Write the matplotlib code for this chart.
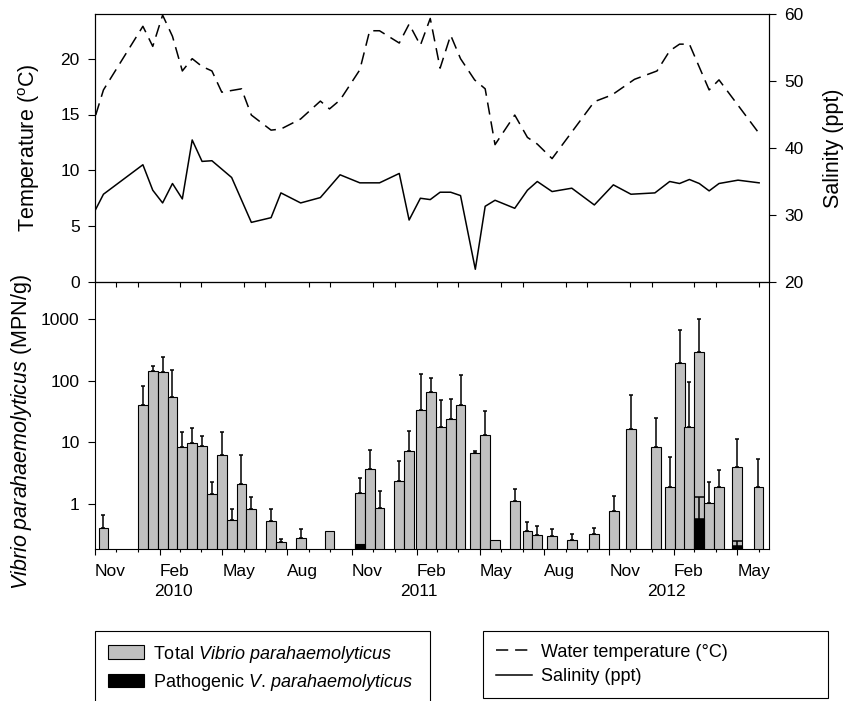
import matplotlib.pyplot as plt
import matplotlib.dates as mdates
import matplotlib.ticker as mticker
import matplotlib.transforms as mtransforms
from matplotlib.lines import Line2D
from matplotlib.patches import Patch
import numpy as np
import pandas as pd

plt.rcParams["font.family"] = "Liberation Sans"
plt.rcParams["mathtext.fontset"] = "custom"
plt.rcParams["mathtext.rm"] = "Liberation Sans"
plt.rcParams["mathtext.it"] = "Liberation Sans:italic"

BAR_GRAY = "#c0c0c0"
TICK_FS = 12.5
LABEL_FS = 15.5
DASHED = (0, (8, 4.5))

# 1) Data
temp_dates = [
    "2009-11-02", "2009-11-13", "2010-01-08", "2010-01-22", "2010-02-05",
    "2010-02-19", "2010-03-05", "2010-03-19", "2010-04-02", "2010-04-16",
    "2010-04-30", "2010-05-28", "2010-06-11", "2010-07-09", "2010-07-23",
    "2010-08-20", "2010-09-17", "2010-09-30", "2010-10-15", "2010-11-12",
    "2010-11-26", "2010-12-10", "2011-01-07", "2011-01-21", "2011-02-06",
    "2011-02-20", "2011-03-06", "2011-03-21", "2011-04-04", "2011-04-24",
    "2011-05-09", "2011-05-23", "2011-06-20", "2011-07-08", "2011-07-22",
    "2011-08-12", "2011-10-11", "2011-11-05", "2011-12-07", "2012-01-08",
    "2012-01-26", "2012-02-09", "2012-02-23", "2012-03-22", "2012-04-05",
    "2012-06-01",
]
temp_values = [
    14.95, 17.2, 22.9, 21.1, 23.9,
    22.0, 18.9, 20.0, 19.3, 18.9,
    17.0, 17.3, 14.95, 13.6, 13.7,
    14.6, 16.2, 15.5, 16.3, 19.0,
    22.5, 22.5, 21.4, 23.1, 21.2,
    23.6, 19.15, 22.1, 20.0, 18.1,
    17.3, 12.3, 14.95, 12.95, 12.35,
    11.05, 16.15, 16.75, 18.15, 18.9,
    20.7, 21.3, 21.3, 17.2, 18.1,
    13.3,
]

sal_dates = [
    "2009-11-02", "2009-11-13", "2010-01-08", "2010-01-22", "2010-02-05",
    "2010-02-19", "2010-03-05", "2010-03-19", "2010-04-02", "2010-04-16",
    "2010-05-14", "2010-06-11", "2010-07-09", "2010-07-23", "2010-08-20",
    "2010-09-17", "2010-10-15", "2010-11-12", "2010-12-10", "2011-01-07",
    "2011-01-21", "2011-02-06", "2011-02-20", "2011-03-06", "2011-03-21",
    "2011-04-04", "2011-04-25", "2011-05-09", "2011-05-23", "2011-06-20",
    "2011-07-08", "2011-07-22", "2011-08-12", "2011-09-09", "2011-10-11",
    "2011-11-07", "2011-12-02", "2012-01-05", "2012-01-26", "2012-02-09",
    "2012-02-23", "2012-03-08", "2012-03-22", "2012-04-05", "2012-05-02",
    "2012-06-01",
]
sal_values = [
    30.85, 33.1, 37.5, 33.7, 31.8,
    34.7, 32.4, 41.2, 38.0, 38.1,
    35.6, 28.9, 29.6, 33.3, 31.8,
    32.6, 36.0, 34.8, 34.8, 36.2,
    29.25, 32.5, 32.3, 33.4, 33.4,
    32.9, 21.9, 31.3, 32.2, 31.0,
    33.7, 35.0, 33.5, 34.0, 31.5,
    34.5, 33.1, 33.3, 35.0, 34.7,
    35.3, 34.7, 33.6, 34.7, 35.2,
    34.8,
]

vp_dates = [
    "2009-11-13", "2010-01-08", "2010-01-22", "2010-02-05", "2010-02-19",
    "2010-03-05", "2010-03-19", "2010-04-02", "2010-04-16", "2010-04-30",
    "2010-05-14", "2010-05-28", "2010-06-11", "2010-07-09", "2010-07-23",
    "2010-08-20", "2010-09-30", "2010-11-12", "2010-11-26", "2010-12-10",
    "2011-01-07", "2011-01-21", "2011-02-07", "2011-02-21", "2011-03-07",
    "2011-03-21", "2011-04-04", "2011-04-25", "2011-05-09", "2011-05-23",
    "2011-06-20", "2011-07-08", "2011-07-22", "2011-08-12", "2011-09-09",
    "2011-10-11", "2011-11-08", "2011-12-02", "2012-01-06", "2012-01-27",
    "2012-02-10", "2012-02-23", "2012-03-08", "2012-03-22", "2012-04-05",
    "2012-04-30", "2012-05-31",
]
vp_total = [
    0.40, 40, 145, 138, 55,
    8.3, 9.6, 8.7, 1.47, 6.3,
    0.54, 2.13, 0.82, 0.53, 0.24,
    0.28, 0.365, 1.49, 3.74, 0.85,
    2.36, 7.15, 33.4, 65.5, 17.9,
    23.6, 40, 6.7, 13.1, 0.255,
    1.10, 0.365, 0.31, 0.30, 0.26,
    0.33, 0.78, 16.6, 8.4, 1.89,
    191, 17.9, 288, 1.03, 1.86,
    3.94, 1.86,
]
# top of the error bar (None = no error bar drawn)
vp_total_upper = [
    0.66, 82, 175, 240, 151,
    14.9, 16.9, 12.5, 2.24, 14.9,
    0.82, 6.3, 1.31, 0.82, 0.27,
    0.39, None, 2.67, 7.5, 1.64,
    4.98, 15.5, 129, 110, 48,
    51, 125, 7.2, 32.6, None,
    1.73, 0.50, 0.43, 0.39, 0.33,
    0.41, 1.36, 58.5, 24.8, 5.7,
    665, 94, 1000, 2.3, 3.55,
    11.4, 5.4,
]

path_dates = ["2010-11-12", "2012-03-08", "2012-04-30"]
path_values = [0.22, 0.57, 0.21]
path_upper = [None, 1.27, 0.25]

year_labels = ["2010", "2011", "2012"]
year_label_dates = ["2010-02-21", "2011-02-04", "2012-01-22"]


def errbars(ax, dates, values, uppers, capsize, zorder):
    d = pd.to_datetime(dates)
    v = np.array(values, dtype=float)
    u = np.array([np.nan if x is None else x for x in uppers], dtype=float)
    m = ~np.isnan(u)
    ax.errorbar(
        d[m], v[m],
        yerr=[np.zeros(m.sum()), u[m] - v[m]],
        fmt="none", ecolor="black", elinewidth=1.1,
        capsize=capsize, capthick=1.1, zorder=zorder,
    )


def main():
    fig = plt.figure(figsize=(8.43, 7.01), dpi=100)
    left, width = 95 / 843, 674 / 843
    ax_t = fig.add_axes([left, 1 - 282 / 701, width, 268 / 701])
    ax_b = fig.add_axes([left, 1 - 549 / 701, width, 267 / 701])
    ax_b.patch.set_visible(False)
    ax_s = ax_t.twinx()

    xmin, xmax = pd.Timestamp("2009-11-01"), pd.Timestamp("2012-06-15")
    months = pd.date_range("2009-11-01", "2012-06-01", freq="MS")
    off_quarter = months[~months.month.isin([2, 5, 8, 11])]

    # 2) Top panel: temperature + salinity
    ax_t.plot(pd.to_datetime(temp_dates), temp_values, color="black",
              linewidth=1.1, linestyle=DASHED)
    ax_s.plot(pd.to_datetime(sal_dates), sal_values, color="black",
              linewidth=1.1)

    ax_t.set_xlim(xmin, xmax)
    ax_t.set_ylim(0, 24)
    ax_s.set_ylim(20, 60)
    ax_t.set_yticks([0, 5, 10, 15, 20])
    ax_s.set_yticks([20, 30, 40, 50, 60])
    ax_t.xaxis.set_major_locator(mticker.FixedLocator(mdates.date2num(off_quarter)))
    ax_t.tick_params(axis="x", direction="out", length=3.5, width=0.8,
                     labelbottom=False)
    ax_t.tick_params(axis="y", direction="out", length=5, width=0.8,
                     pad=6, labelsize=TICK_FS)
    ax_s.tick_params(axis="y", direction="out", length=5, width=0.8,
                     pad=6, labelsize=TICK_FS)

    ax_t.set_ylabel("Temperature ($^{\\mathrm{o}}$C)", fontsize=LABEL_FS)
    ax_t.yaxis.set_label_coords(-0.078, 0.5)
    ax_s.set_ylabel("Salinity (ppt)", fontsize=LABEL_FS)
    ax_s.yaxis.set_label_coords(1.08, 0.5)

    # 3) Bottom panel: Vibrio parahaemolyticus bars
    vd = pd.to_datetime(vp_dates)
    base = 0.1
    ax_b.bar(vd, np.array(vp_total) - base, bottom=base, width=14,
             color=BAR_GRAY, edgecolor="black", linewidth=0.8, zorder=2)
    errbars(ax_b, vp_dates, vp_total, vp_total_upper, 1.6, 3)
    pd_ = pd.to_datetime(path_dates)
    ax_b.bar(pd_, np.array(path_values) - base, bottom=base, width=14,
             color="black", edgecolor="black", linewidth=0.8, zorder=4)
    errbars(ax_b, path_dates, path_values, path_upper, 3.5, 5)

    ax_b.set_yscale("log")
    ax_b.set_ylim(0.185, 4000)
    ax_b.set_xlim(xmin, xmax)
    ax_b.yaxis.set_major_locator(mticker.FixedLocator([1, 10, 100, 1000]))
    ax_b.yaxis.set_major_formatter(mticker.FixedFormatter(["1", "10", "100", "1000"]))
    ax_b.yaxis.set_minor_locator(mticker.NullLocator())
    ax_b.xaxis.set_major_locator(mdates.MonthLocator(bymonth=[2, 5, 8, 11]))
    ax_b.xaxis.set_major_formatter(mdates.DateFormatter("%b"))
    ax_b.xaxis.set_minor_locator(mdates.MonthLocator())
    ax_b.tick_params(axis="x", which="major", direction="out", length=4.5,
                     width=0.8, pad=6, labelsize=TICK_FS)
    ax_b.tick_params(axis="x", which="minor", direction="out", length=2.5,
                     width=0.8)
    ax_b.tick_params(axis="y", direction="out", length=5, width=0.8,
                     pad=6, labelsize=TICK_FS)
    for lbl in ax_b.get_xticklabels():
        lbl.set_horizontalalignment("left")

    trans = mtransforms.blended_transform_factory(ax_b.transData, ax_b.transAxes)
    for lab, d in zip(year_labels, pd.to_datetime(year_label_dates)):
        ax_b.text(d, -0.161, lab, transform=trans, ha="center", va="center",
                  fontsize=TICK_FS)

    ax_b.set_ylabel("$\\mathit{Vibrio\\ parahaemolyticus}$ (MPN/g)",
                    fontsize=LABEL_FS)
    ax_b.yaxis.set_label_coords(-0.09, 0.44)

    for ax in (ax_t, ax_b, ax_s):
        for spine in ax.spines.values():
            spine.set_linewidth(0.8)

    # 4) Legends below the plot
    h_bars = [
        Patch(facecolor=BAR_GRAY, edgecolor="black", linewidth=0.8),
        Patch(facecolor="black", edgecolor="black", linewidth=0.8),
    ]
    h_lines = [
        Line2D([], [], color="black", linewidth=1.1, linestyle=DASHED),
        Line2D([], [], color="black", linewidth=1.1),
    ]
    common = dict(
        loc="upper left", mode="expand", borderaxespad=0, fontsize=13,
        fancybox=False, framealpha=1, edgecolor="black",
        handlelength=2.0, handleheight=0.8, handletextpad=0.5,
        labelspacing=0.4, borderpad=0.7,
    )
    leg1 = fig.legend(
        h_bars,
        ["Total $\\mathit{Vibrio\\ parahaemolyticus}$",
         "Pathogenic $\\mathit{V.\\,parahaemolyticus}$"],
        bbox_to_anchor=(95 / 843, 1 - 631 / 701, 335 / 843, 0), **common,
    )
    leg2 = fig.legend(
        h_lines,
        ["Water temperature (\u00b0C)", "Salinity (ppt)"],
        bbox_to_anchor=(483 / 843, 1 - 631 / 701, 345 / 843, 0), **common,
    )
    for leg in (leg1, leg2):
        leg.get_frame().set_linewidth(0.8)

    fig.savefig("out.png", dpi=100, facecolor="white")
    plt.close(fig)


if __name__ == "__main__":
    main()
